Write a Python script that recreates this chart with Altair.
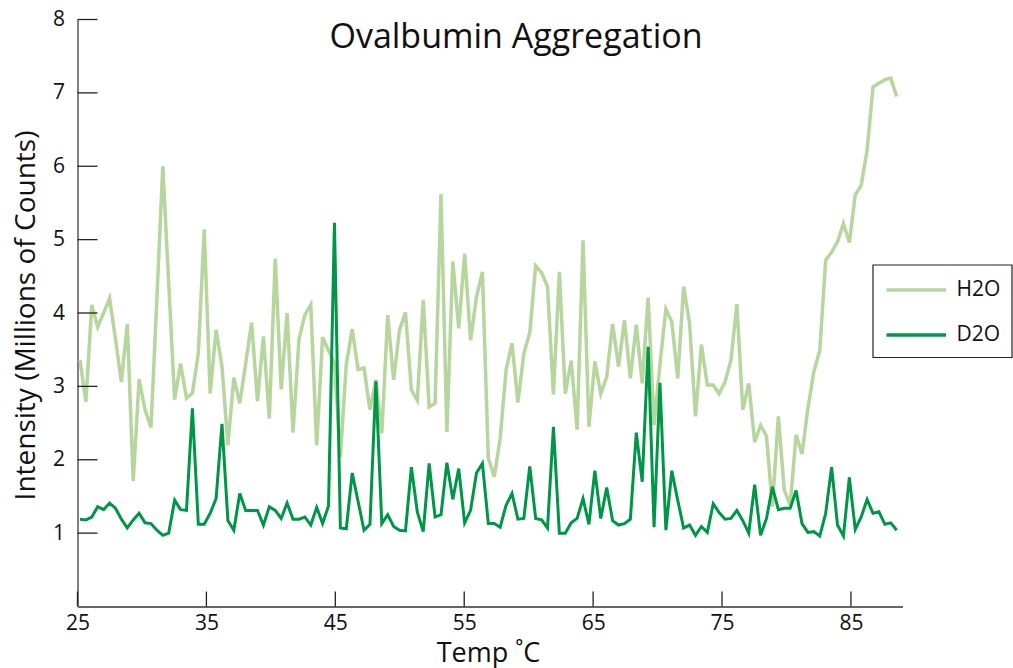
import altair as alt
import pandas as pd

# H2O and D2O intensities (millions of counts)
h2o = [3.36, 2.79, 4.11, 3.81, 4.00, 4.20, 3.65, 3.06, 3.85, 1.71,
       3.10, 2.68, 2.44, 4.20, 6.00, 4.40, 2.82, 3.31, 2.84, 2.91,
       3.45, 5.14, 2.90, 3.77, 3.27, 2.20, 3.12, 2.77, 3.31, 3.87,
       2.80, 3.68, 2.56, 4.74, 2.96, 4.00, 2.37, 3.64, 3.97, 4.11,
       2.20, 3.67, 3.49, 3.32, 2.04, 3.30, 3.78, 3.23, 3.25, 2.68,
       3.09, 2.36, 3.97, 3.09, 3.77, 4.01, 2.95, 2.81, 4.18, 2.72,
       2.77, 5.62, 2.38, 4.70, 3.79, 4.81, 3.63, 4.22, 4.56, 2.02,
       1.77, 2.29, 3.22, 3.59, 2.78, 3.45, 3.73, 4.64, 4.55, 4.36,
       2.89, 4.56, 2.90, 3.35, 2.41, 4.99, 2.45, 3.34, 2.90, 3.13,
       3.85, 3.27, 3.90, 3.11, 3.84, 3.04, 4.21, 2.47, 3.30, 4.05,
       3.88, 3.11, 4.36, 3.86, 2.59, 3.57, 3.02, 3.02, 2.90, 3.06,
       3.36, 4.12, 2.68, 3.04, 2.24, 2.47, 2.32, 1.36, 2.59, 1.59,
       1.38, 2.34, 2.08, 2.70, 3.20, 3.49, 4.72, 4.83, 4.97, 5.22,
       4.96, 5.61, 5.74, 6.22, 7.08, 7.13, 7.18, 7.20, 6.95]

d2o = [1.19, 1.18, 1.22, 1.36, 1.32, 1.41, 1.34, 1.19, 1.07, 1.18,
       1.27, 1.14, 1.13, 1.04, 0.97, 1.00, 1.45, 1.32, 1.31, 2.70,
       1.12, 1.12, 1.27, 1.47, 2.49, 1.17, 1.04, 1.54, 1.31, 1.31,
       1.31, 1.11, 1.36, 1.31, 1.20, 1.41, 1.19, 1.19, 1.22, 1.11,
       1.35, 1.13, 1.37, 5.23, 1.07, 1.06, 1.82, 1.43, 1.04, 1.12,
       3.07, 1.13, 1.25, 1.09, 1.04, 1.03, 1.90, 1.29, 1.02, 1.95,
       1.22, 1.25, 1.96, 1.46, 1.88, 1.14, 1.31, 1.82, 1.95, 1.13,
       1.13, 1.08, 1.38, 1.54, 1.19, 1.20, 1.91, 1.20, 1.18, 1.07,
       2.45, 1.00, 1.00, 1.14, 1.20, 1.47, 1.12, 1.85, 1.20, 1.62,
       1.17, 1.11, 1.13, 1.19, 2.37, 1.70, 3.54, 1.08, 3.05, 1.04,
       1.85, 1.45, 1.07, 1.11, 0.97, 1.09, 1.01, 1.40, 1.28, 1.19,
       1.20, 1.31, 1.17, 1.00, 1.66, 0.97, 1.20, 1.63, 1.32, 1.34,
       1.34, 1.58, 1.13, 1.01, 1.02, 0.96, 1.27, 1.90, 1.11, 0.96,
       1.76, 1.05, 1.22, 1.46, 1.27, 1.29, 1.12, 1.14, 1.04]

# uniform temperature sampling grid (deg C)
t_start, t_end = 25.19, 88.55
temps = [round(t_start + (t_end - t_start) * i / (len(h2o) - 1), 3) for i in range(len(h2o))]

x_ticks = [25, 35, 45, 55, 65, 75, 85]
y_ticks = [1, 2, 3, 4, 5, 6, 7, 8]

series_names = ["H2O", "D2O"]
series_colors = ["#b7d69e", "#009648"]

W, H = 825, 587
FONT = "Open Sans"

xs = alt.Scale(domain=[25, 89], nice=False, zero=False)
ys = alt.Scale(domain=[0, 8], nice=False)

df_h = pd.DataFrame({"t": temps, "v": h2o})
df_d = pd.DataFrame({"t": temps, "v": d2o})

xaxis = alt.Axis(values=x_ticks, ticks=False, tickSize=0, grid=False, title=None,
                 format="d", labelFlush=False, labelOverlap=False,
                 labelFontSize=21, labelFont=FONT, labelColor="#111", labelPadding=6,
                 domainColor="#333", domainWidth=1.5)
yaxis = alt.Axis(values=y_ticks, ticks=False, tickSize=0, grid=False, title=None,
                 format="d", labelFlush=False, labelOverlap=False,
                 labelFontSize=21, labelFont=FONT, labelColor="#111", labelPadding=13,
                 domainColor="#808080", domainWidth=2)

line_h = alt.Chart(df_h).mark_line(color=series_colors[0], strokeWidth=3.5).encode(
    x=alt.X("t:Q", scale=xs, axis=xaxis),
    y=alt.Y("v:Q", scale=ys, axis=yaxis),
)
line_d = alt.Chart(df_d).mark_line(color=series_colors[1], strokeWidth=3).encode(
    x=alt.X("t:Q", scale=xs),
    y=alt.Y("v:Q", scale=ys),
)

# inward ticks
yt = alt.Chart(pd.DataFrame({"v": y_ticks})).mark_rule(color="#222", strokeWidth=1.3).encode(
    y=alt.Y("v:Q", scale=ys), x=alt.value(0), x2=alt.value(20)
)
xt = alt.Chart(pd.DataFrame({"t": x_ticks})).mark_rule(color="#222", strokeWidth=1.3).encode(
    x=alt.X("t:Q", scale=xs), y=alt.value(H - 15), y2=alt.value(H)
)

def label(text, x, y, size, angle=0, baseline="alphabetic"):
    return alt.Chart(pd.DataFrame({"s": [text]})).mark_text(
        font=FONT, fontSize=size, color="#111", angle=angle,
        align="center", baseline=baseline
    ).encode(text="s:N", x=alt.value(x), y=alt.value(y))

title = label("Ovalbumin Aggregation", 438.5, 28.5, 34)
xtitle = label("Temp ˚C", 411, 642.5, 27)
ytitle = label("Intensity (Millions of Counts)", -50.5, 296, 28, angle=270, baseline="middle")

# legend
leg_box = alt.Chart(pd.DataFrame({"a": [0]})).mark_rect(
    fill="white", stroke="#222", strokeWidth=1.2
).encode(x=alt.value(795.5), x2=alt.value(934.5), y=alt.value(245.5), y2=alt.value(338))
leg_items = []
for name, col, yy in [(series_names[0], series_colors[0], 270.5),
                      (series_names[1], series_colors[1], 315.5)]:
    leg_items.append(
        alt.Chart(pd.DataFrame({"a": [0]})).mark_rule(color=col, strokeWidth=3.5).encode(
            x=alt.value(809), x2=alt.value(868.5), y=alt.value(yy))
    )
    leg_items.append(
        alt.Chart(pd.DataFrame({"s": [name]})).mark_text(
            font=FONT, fontSize=21, color="#111", align="left", baseline="middle"
        ).encode(text="s:N", x=alt.value(879), y=alt.value(yy))
    )

chart = alt.layer(line_h, line_d, yt, xt, title, xtitle, ytitle, leg_box, *leg_items).properties(
    width=W, height=H,
    background="white",
    autosize=alt.AutoSizeParams(type="none"),
    padding={"left": 77.5, "top": 19.5, "right": 110.5, "bottom": 61.5},
).configure_view(strokeWidth=0, stroke="transparent")

chart.save("out.html", embed_options={"renderer": "svg", "actions": False})
